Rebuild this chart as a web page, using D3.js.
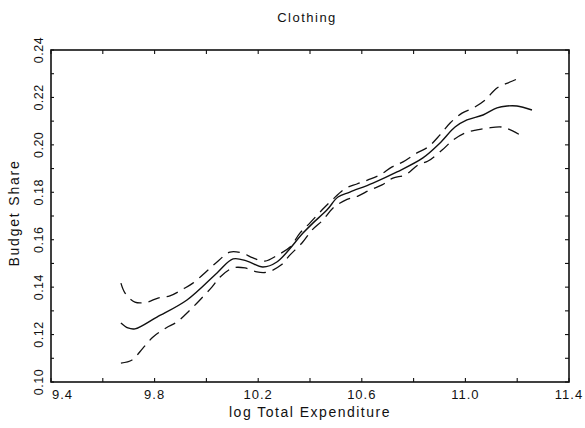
<!DOCTYPE html>
<html><head><meta charset="utf-8">
<script src="https://cdn.jsdelivr.net/npm/d3@7"></script>
<style>html,body{margin:0;padding:0;background:#fff;}svg{display:block;}</style>
</head><body>
<script>
const titleText = "Clothing";
const xTitle = "log Total Expenditure";
const yTitle = "Budget Share";
const xTickLabels = [9.4, 9.8, 10.2, 10.6, 11.0, 11.4];
const yTickLabels = [0.10, 0.12, 0.14, 0.16, 0.18, 0.20, 0.22, 0.24];

const mainX = [9.670,9.697,9.724,9.809,9.925,10.041,10.103,10.157,10.218,10.272,10.373,10.412,10.466,10.508,10.554,10.643,10.736,10.836,10.902,10.960,11.006,11.068,11.122,11.161,11.199,11.257];
const mainY = [0.1249,0.1228,0.1224,0.1274,0.1346,0.1460,0.1519,0.1510,0.1485,0.1506,0.1628,0.1671,0.1726,0.1780,0.1801,0.1839,0.1886,0.1945,0.2008,0.2075,0.2105,0.2126,0.2156,0.2164,0.2164,0.2147];

const upperX = [9.670,9.686,9.724,9.771,9.813,9.859,9.910,9.948,10.002,10.041,10.091,10.137,10.180,10.226,10.276,10.323,10.361,10.400,10.446,10.485,10.535,10.581,10.624,10.670,10.717,10.759,10.813,10.856,10.902,10.941,10.987,11.029,11.076,11.122,11.172,11.218];
const upperY = [0.1417,0.1375,0.1337,0.1337,0.1354,0.1363,0.1392,0.1417,0.1468,0.1506,0.1548,0.1544,0.1523,0.1510,0.1536,0.1569,0.1628,0.1671,0.1725,0.1767,0.1815,0.1835,0.1852,0.1873,0.1907,0.1928,0.1966,0.1991,0.2042,0.2092,0.2134,0.2155,0.2189,0.2240,0.2265,0.2286];

const lowerX = [9.670,9.713,9.755,9.794,9.844,9.886,9.937,9.975,10.022,10.053,10.103,10.149,10.195,10.238,10.288,10.323,10.369,10.408,10.450,10.489,10.543,10.585,10.632,10.678,10.720,10.767,10.817,10.856,10.910,10.952,10.998,11.045,11.087,11.141,11.184,11.230];
const lowerY = [0.1080,0.1093,0.1143,0.1190,0.1228,0.1253,0.1304,0.1346,0.1401,0.1443,0.1481,0.1481,0.1464,0.1464,0.1493,0.1536,0.1586,0.1641,0.1683,0.1734,0.1770,0.1784,0.1810,0.1831,0.1860,0.1873,0.1915,0.1932,0.1978,0.2020,0.2050,0.2063,0.2071,0.2075,0.2058,0.2029];

const W = 585, H = 428;
const m = {left: 51, right: 16, top: 50, bottom: 46};
const svg = d3.select("body").append("svg").attr("width", W).attr("height", H);
const x = d3.scaleLinear().domain([9.4, 11.4]).range([m.left, W - m.right]);
const y = d3.scaleLinear().domain([0.10, 0.24]).range([H - m.bottom, m.top]);
const font = "'Liberation Sans', Arial, sans-serif";
const ink = "#111";

// ticks
const xTicks = d3.range(9.4, 11.4001, 0.2);
const yTicks = d3.range(0.10, 0.24001, 0.01);
const tk = svg.append("g").attr("stroke", ink).attr("stroke-width", 1.1);
xTicks.forEach(v => {
  tk.append("line").attr("x1", x(v)).attr("x2", x(v)).attr("y1", y(0.10)).attr("y2", y(0.10) - 4);
  tk.append("line").attr("x1", x(v)).attr("x2", x(v)).attr("y1", y(0.24)).attr("y2", y(0.24) + 4);
});
yTicks.forEach(v => {
  tk.append("line").attr("x1", x(9.4)).attr("x2", x(9.4) + 3).attr("y1", y(v)).attr("y2", y(v));
  tk.append("line").attr("x1", x(11.4)).attr("x2", x(11.4) - 4).attr("y1", y(v)).attr("y2", y(v));
});

// frame
svg.append("rect").attr("x", x(9.4)).attr("y", y(0.24))
  .attr("width", x(11.4) - x(9.4)).attr("height", y(0.10) - y(0.24))
  .attr("fill", "none").attr("stroke", ink).attr("stroke-width", 1.6);

// x tick labels
svg.append("g").selectAll("text").data(xTickLabels).join("text")
  .attr("x", (d, i) => i === 0 ? x(d) + 1 : x(d))
  .attr("y", y(0.10) + 17)
  .attr("text-anchor", (d, i) => i === 0 ? "start" : "middle")
  .attr("font-family", font).attr("font-size", 13).attr("letter-spacing", 1)
  .attr("fill", ink).text(d => d.toFixed(1));

// y tick labels (rotated)
svg.append("g").selectAll("text").data(yTickLabels).join("text")
  .attr("transform", d => `translate(${x(9.4) - 8},${y(d)}) rotate(-90)`)
  .attr("text-anchor", "middle")
  .attr("font-family", font).attr("font-size", 12.5).attr("letter-spacing", 0.5)
  .attr("fill", ink).text(d => d.toFixed(2));

// titles
svg.append("text").attr("x", 307).attr("y", 22).attr("text-anchor", "middle")
  .attr("font-family", font).attr("font-size", 13).attr("letter-spacing", 1.5)
  .attr("fill", ink).text(titleText);
svg.append("text").attr("x", (x(9.4) + x(11.4)) / 2).attr("y", 417).attr("text-anchor", "middle")
  .attr("font-family", font).attr("font-size", 14).attr("letter-spacing", 1.5)
  .attr("fill", ink).text(xTitle);
svg.append("text").attr("transform", `translate(19,${(y(0.10) + y(0.24)) / 2 - 3}) rotate(-90)`)
  .attr("text-anchor", "middle")
  .attr("font-family", font).attr("font-size", 14).attr("letter-spacing", 1.8)
  .attr("fill", ink).text(yTitle);

// curves
const line = d3.line().x(d => x(d[0])).y(d => y(d[1])).curve(d3.curveCatmullRom.alpha(0.5));
const zip = (a, b) => a.map((v, i) => [v, b[i]]);
svg.append("path").datum(zip(mainX, mainY)).attr("d", line)
  .attr("fill", "none").attr("stroke", ink).attr("stroke-width", 1.4);
[[upperX, upperY], [lowerX, lowerY]].forEach(([a, b]) => {
  svg.append("path").datum(zip(a, b)).attr("d", line)
    .attr("fill", "none").attr("stroke", ink).attr("stroke-width", 1.3)
    .attr("stroke-dasharray", "12,7");
});
</script>
</body></html>
